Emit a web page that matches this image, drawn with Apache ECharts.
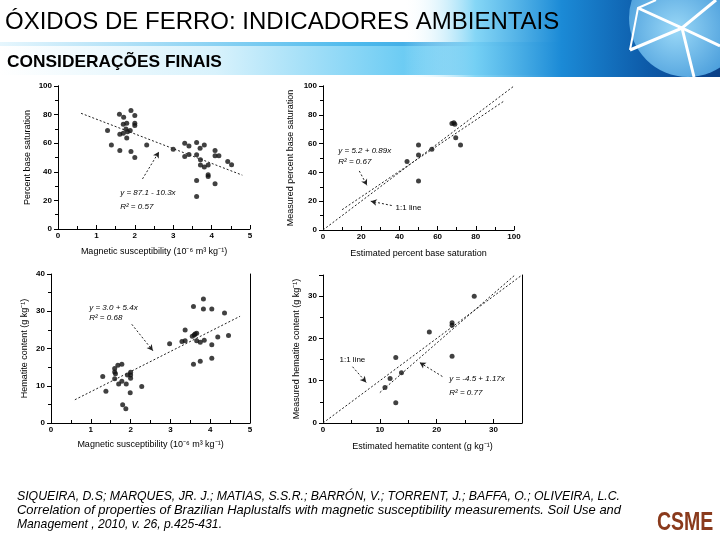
<!DOCTYPE html>
<html><head><meta charset="utf-8">
<script src="https://cdn.jsdelivr.net/npm/echarts@6/dist/echarts.min.js"></script>
<style>html,body{margin:0;padding:0;background:#fff}#c{width:720px;height:540px}</style>
</head><body><div id="c"></div>
<script>
// ---------- DATA ----------
// Panel 1: Magnetic susceptibility vs Percent base saturation
const p1X = [1.29,1.39,1.60,1.71,1.61,1.70,1.70,1.79,1.77,1.81,1.79,1.90,1.88,2.00,2.00,2.00,1.61,1.90,2.00,2.31,3.00,3.30,3.41,3.30,3.41,3.61,3.70,3.61,3.81,3.71,3.71,3.81,3.91,3.91,3.91,3.61,3.61,4.09,4.09,4.09,4.19,4.42,4.52];
const p1Y = [68.8,58.8,80.2,78.1,66.3,67.0,73.3,74.0,70.0,68.0,63.7,82.8,68.8,74.0,79.3,72.3,54.9,54.2,50.0,58.8,55.8,60.0,58.1,50.7,52.1,60.5,56.5,51.9,58.8,48.4,44.7,43.3,44.7,36.7,38.0,34.0,22.8,31.6,54.9,51.2,51.2,47.2,44.9];
// Panel 2: Estimated vs Measured percent base saturation
const p2X = [44,50,50,57,50,67.5,68.5,69,69.5,72];
const p2Y = [47.5,59,52,56,34,74,74.5,73.5,64,59];
// Panel 3: Magnetic susceptibility vs Hematite content
const p3X = [1.30,1.38,1.60,1.60,1.62,1.60,1.68,1.70,1.78,1.78,1.80,1.88,1.89,1.92,2.00,2.00,2.00,1.99,2.28,2.98,3.29,3.37,3.37,3.55,3.60,3.62,3.66,3.58,3.83,3.83,4.04,4.36,3.66,3.75,3.85,4.04,4.19,4.46,3.58,3.75,4.04];
const p3Y = [12.5,8.5,14.6,13.7,13.2,11.9,15.5,10.5,15.8,11.2,4.9,3.8,10.5,12.9,12.9,13.6,12.0,8.1,9.8,21.3,21.9,25.0,22.1,23.3,23.6,23.9,24.1,31.3,33.3,30.6,30.6,29.5,22.1,21.7,22.2,21.0,23.1,23.5,15.8,16.6,17.4];
// Panel 4: Estimated vs Measured hematite content
const p4X = [10.9,11.8,12.8,12.8,13.8,18.7,22.7,22.7,22.7,26.6];
const p4Y = [8.4,10.5,15.5,4.8,11.9,21.5,23.7,23.1,15.8,30.0];
// Regression fits
const fitIntercepts = [87.1, 5.2, 3.0, -4.5];
const fitSlopes = [-10.3, 0.89, 5.4, 1.17];
const eqLabels = ['y = 87.1 - 10.3x','y = 5.2 + 0.89x','y = 3.0 + 5.4x','y = -4.5 + 1.17x'];
const r2Labels = ['R² = 0.57','R² = 0.67','R² = 0.68','R² = 0.77'];
const xNames = ['Magnetic susceptibility (10⁻⁶ m³ kg⁻¹)','Estimated percent base saturation','Magnetic susceptibility (10⁻⁶ m³ kg⁻¹)','Estimated hematite content (g kg⁻¹)'];
const yNames = ['Percent base saturation','Measured percent base saturation','Hematite content (g kg⁻¹)','Measured hematite content (g kg⁻¹)'];
const citation = [
  'SIQUEIRA, D.S; MARQUES, JR. J.; MATIAS, S.S.R.; BARRÓN, V.; TORRENT, J.; BAFFA, O.; OLIVEIRA, L.C.',
  'Correlation of properties of Brazilian Haplustalfs with magnetic susceptibility measurements. Soil Use and',
  'Management , 2010, v. 26, p.425-431.'
];

// ---------- LAYOUT ----------
const FONT = 'Liberation Sans, Arial, sans-serif';
const zip = (a,b) => a.map((v,i)=>[v,b[i]]);
const fitLine = (i,x0,x1) => [[x0, fitIntercepts[i]+fitSlopes[i]*x0],[x1, fitIntercepts[i]+fitSlopes[i]*x1]];

const grids = [
  {left:58, top:86, width:192, height:143},
  {left:323, top:86, width:191, height:144},
  {left:51, top:274, width:199, height:149},
  {left:323, top:275, width:199, height:148}
];
const axCfg = [
  {xmin:0,xmax:5,xint:1,ymin:0,ymax:100,yint:20,bottomLine:false,top:true,xGap:18,yGap:26,showMax:true},
  {xmin:0,xmax:100,xint:20,ymin:0,ymax:100,yint:20,bottomLine:false,top:true,xGap:19,yGap:28,showMax:true},
  {xmin:0,xmax:5,xint:1,ymin:0,ymax:40,yint:10,bottomLine:true,top:false,xGap:17,yGap:22,showMax:true},
  {xmin:0,xmax:35,xint:10,ymin:0,ymax:35,yint:10,bottomLine:true,top:false,xGap:19,yGap:22,showMax:false}
];
const lblStyle = {fontSize:8, fontWeight:'bold', color:'#000', fontFamily:FONT};
const nameStyle = {fontSize:9, color:'#000', fontFamily:FONT};

const xAxis = [], yAxis = [];
axCfg.forEach((c,i)=>{
  xAxis.push({gridIndex:i, type:'value', min:c.xmin, max:c.xmax, interval:c.xint,
    name:xNames[i], nameLocation:'middle', nameGap:c.xGap, nameTextStyle:nameStyle,
    axisLine:{show:c.bottomLine, lineStyle:{color:'#000',width:1}},
    axisTick:{show:true, inside:true, length:4, lineStyle:{color:'#000'}},
    minorTick:{show:true, splitNumber:2, length:3, lineStyle:{color:'#000'}},
    axisLabel:Object.assign({margin:3, showMaxLabel:c.showMax}, lblStyle), splitLine:{show:false}});
  yAxis.push({gridIndex:i, type:'value', min:c.ymin, max:c.ymax, interval:c.yint,
    name:yNames[i], nameLocation:'middle', nameGap:c.yGap, nameTextStyle:nameStyle,
    axisLine:{show:true, lineStyle:{color:'#000',width:1}},
    axisTick:{show:true, inside:false, length:4, lineStyle:{color:'#000'}},
    minorTick:{show:true, splitNumber:2, length:3, lineStyle:{color:'#000'}},
    axisLabel:Object.assign({margin:6, showMaxLabel:c.showMax}, lblStyle), splitLine:{show:false}});
});
// frame lines (right side and top)
axCfg.forEach((c,i)=>{
  yAxis.push({gridIndex:i, type:'value', position:'right', min:c.ymin, max:c.ymax,
    axisLine:{show:true, lineStyle:{color:'#000',width:1}}, axisTick:{show:false}, axisLabel:{show:false}, splitLine:{show:false}});
  if (c.top) xAxis.push({gridIndex:i, type:'value', position:'top', min:c.xmin, max:c.xmax,
    axisLine:{show:true, lineStyle:{color:'#000',width:1}}, axisTick:{show:false}, axisLabel:{show:false}, splitLine:{show:false}});
});

const dotted = {color:'#222', width:1, type:[2,2]};
const arrow = (a,b) => ({silent:true, symbol:['none','arrow'], symbolSize:[5,6],
  lineStyle:{color:'#222', width:1, type:[2,2]}, label:{show:false},
  data:[[{coord:a},{coord:b}]]});
const texts = (pts, italic) => ({symbol:'circle', symbolSize:0, silent:true,
  label:{show:true, position:'right', distance:0, fontSize:8, color:'#000', fontFamily:FONT, fontStyle:italic?'italic':'normal'},
  data:pts.map(p=>({coord:p[0], value:0, label:{formatter:p[1]}}))});

const scat = (i, xs, ys) => ({type:'scatter', xAxisIndex:i, yAxisIndex:i, data:zip(xs,ys),
  symbol:'circle', symbolSize:5, itemStyle:{color:'#111'}, silent:true});

const series = [
  scat(0,p1X,p1Y), scat(1,p2X,p2Y), scat(2,p3X,p3Y), scat(3,p4X,p4Y),
  {type:'line', xAxisIndex:0, yAxisIndex:0, data:fitLine(0,0.6,4.8), showSymbol:false, lineStyle:dotted,
   markLine:arrow([2.2,35],[2.63,54]), markPoint:texts([[[1.62,25],eqLabels[0]],[[1.62,15.5],r2Labels[0]]], true)},
  {type:'line', xAxisIndex:1, yAxisIndex:1, data:[[0,0],[100,100]], showSymbol:false, lineStyle:dotted,
   markLine:arrow([36,17],[25,20]), markPoint:texts([[[38,15.5],'1:1 line']], false)},
  {type:'line', xAxisIndex:1, yAxisIndex:1, data:fitLine(1,10,95), showSymbol:false, lineStyle:dotted,
   markLine:arrow([19,41],[23,31]), markPoint:texts([[[8,55],eqLabels[1]],[[8,47.5],r2Labels[1]]], true)},
  {type:'line', xAxisIndex:2, yAxisIndex:2, data:fitLine(2,0.6,4.75), showSymbol:false, lineStyle:dotted,
   markLine:arrow([2.03,26.5],[2.56,19.4]), markPoint:texts([[[0.96,31],eqLabels[2]],[[0.96,28.2],r2Labels[2]]], true)},
  {type:'line', xAxisIndex:3, yAxisIndex:3, data:[[0,0],[35,35]], showSymbol:false, lineStyle:dotted,
   markLine:arrow([5.2,13.3],[7.6,9.6]), markPoint:texts([[[2.9,15],'1:1 line']], false)},
  {type:'line', xAxisIndex:3, yAxisIndex:3, data:fitLine(3,10,33.7), showSymbol:false, lineStyle:dotted,
   markLine:arrow([21,11],[17,14.3]), markPoint:texts([[[22.2,10.4],eqLabels[3]],[[22.2,7.2],r2Labels[3]]], true)}
];

const grad = (stops) => ({type:'linear', x:0, y:0, x2:1, y2:0, colorStops:stops});
const white = (pts, w) => ({type:'polyline', shape:{points:pts}, style:{stroke:'#fff',lineWidth:w,fill:null}, z:3});
const citeWidths = [603, 604, 205];
const graphic = [
  {type:'rect', shape:{x:0,y:46,width:720,height:29}, style:{fill:grad([{offset:0,color:'#ffffff'},{offset:0.3,color:'#d8f2fc'},{offset:0.6,color:'#5cc6f2'},{offset:1,color:'#1a7fd0'}])}, z:0},
  {type:'rect', shape:{x:0,y:42,width:720,height:4}, style:{fill:grad([{offset:0,color:'#e6f6fd'},{offset:0.5,color:'#4cb9ec'},{offset:1,color:'#0f6cc0'}])}, z:0},
  {type:'rect', shape:{x:0,y:0,width:720,height:77}, style:{fill:grad([{offset:0,color:'rgba(255,255,255,0)'},{offset:0.56,color:'rgba(255,255,255,0)'},{offset:0.66,color:'rgba(120,210,245,0.9)'},{offset:0.78,color:'#1b8ad6'},{offset:0.9,color:'#0d5aa8'},{offset:1,color:'#0a3f86'}])}, z:1},
  {type:'circle', shape:{cx:688,cy:18,r:59}, style:{fill:{type:'radial',x:0.4,y:0.6,r:0.7,colorStops:[{offset:0,color:'#9ad8f7'},{offset:1,color:'#2a86d0'}]}}, z:2},
  white([[638,8],[682,28],[716,0]],3),
  white([[630,50],[682,28],[694,77]],3),
  white([[682,28],[720,46]],3),
  white([[656,0],[638,8],[630,50]],2),
  {type:'rect', shape:{x:0,y:77,width:720,height:3}, style:{fill:'#fff'}, z:4},
  {type:'text', left:5, top:10, style:{text:'ÓXIDOS DE FERRO: INDICADORES AMBIENTAIS', fontSize:24, fontFamily:FONT, fill:'#000'}, z:5},
  {type:'text', left:7, top:54, style:{text:'CONSIDERAÇÕES FINAIS', fontSize:17, fontWeight:'bold', fontFamily:FONT, fill:'#000'}, scaleX:1.02, z:5},
  {type:'text', left:657, top:511, style:{text:'CSME', fontSize:25, fontWeight:'bold', fontFamily:FONT, fill:'#8a3a1c'}, scaleX:0.78, z:5}
];
citation.forEach((t,i)=>{
  graphic.push({type:'text', id:'cite'+i, x:17, y:490+i*14, style:{text:t, fontSize:13, fontStyle:'italic', fontFamily:FONT, fill:'#000'}, z:5});
});

const chart = echarts.init(document.getElementById('c'), null, {renderer:'canvas'});
chart.setOption({animation:false, backgroundColor:'#fff', grid:grids, xAxis, yAxis, series, graphic});
// fit citation lines to their measured widths in the reference
const upd = citation.map((t,i)=>{
  const w = echarts.format.getTextRect ? echarts.format.getTextRect(t, 'italic 13px ' + FONT).width : 0;
  const s = w ? Math.min(1, citeWidths[i]/w) : 0.9;
  return {id:'cite'+i, scaleX:s};
});
chart.setOption({graphic:upd});
</script>
</body></html>
